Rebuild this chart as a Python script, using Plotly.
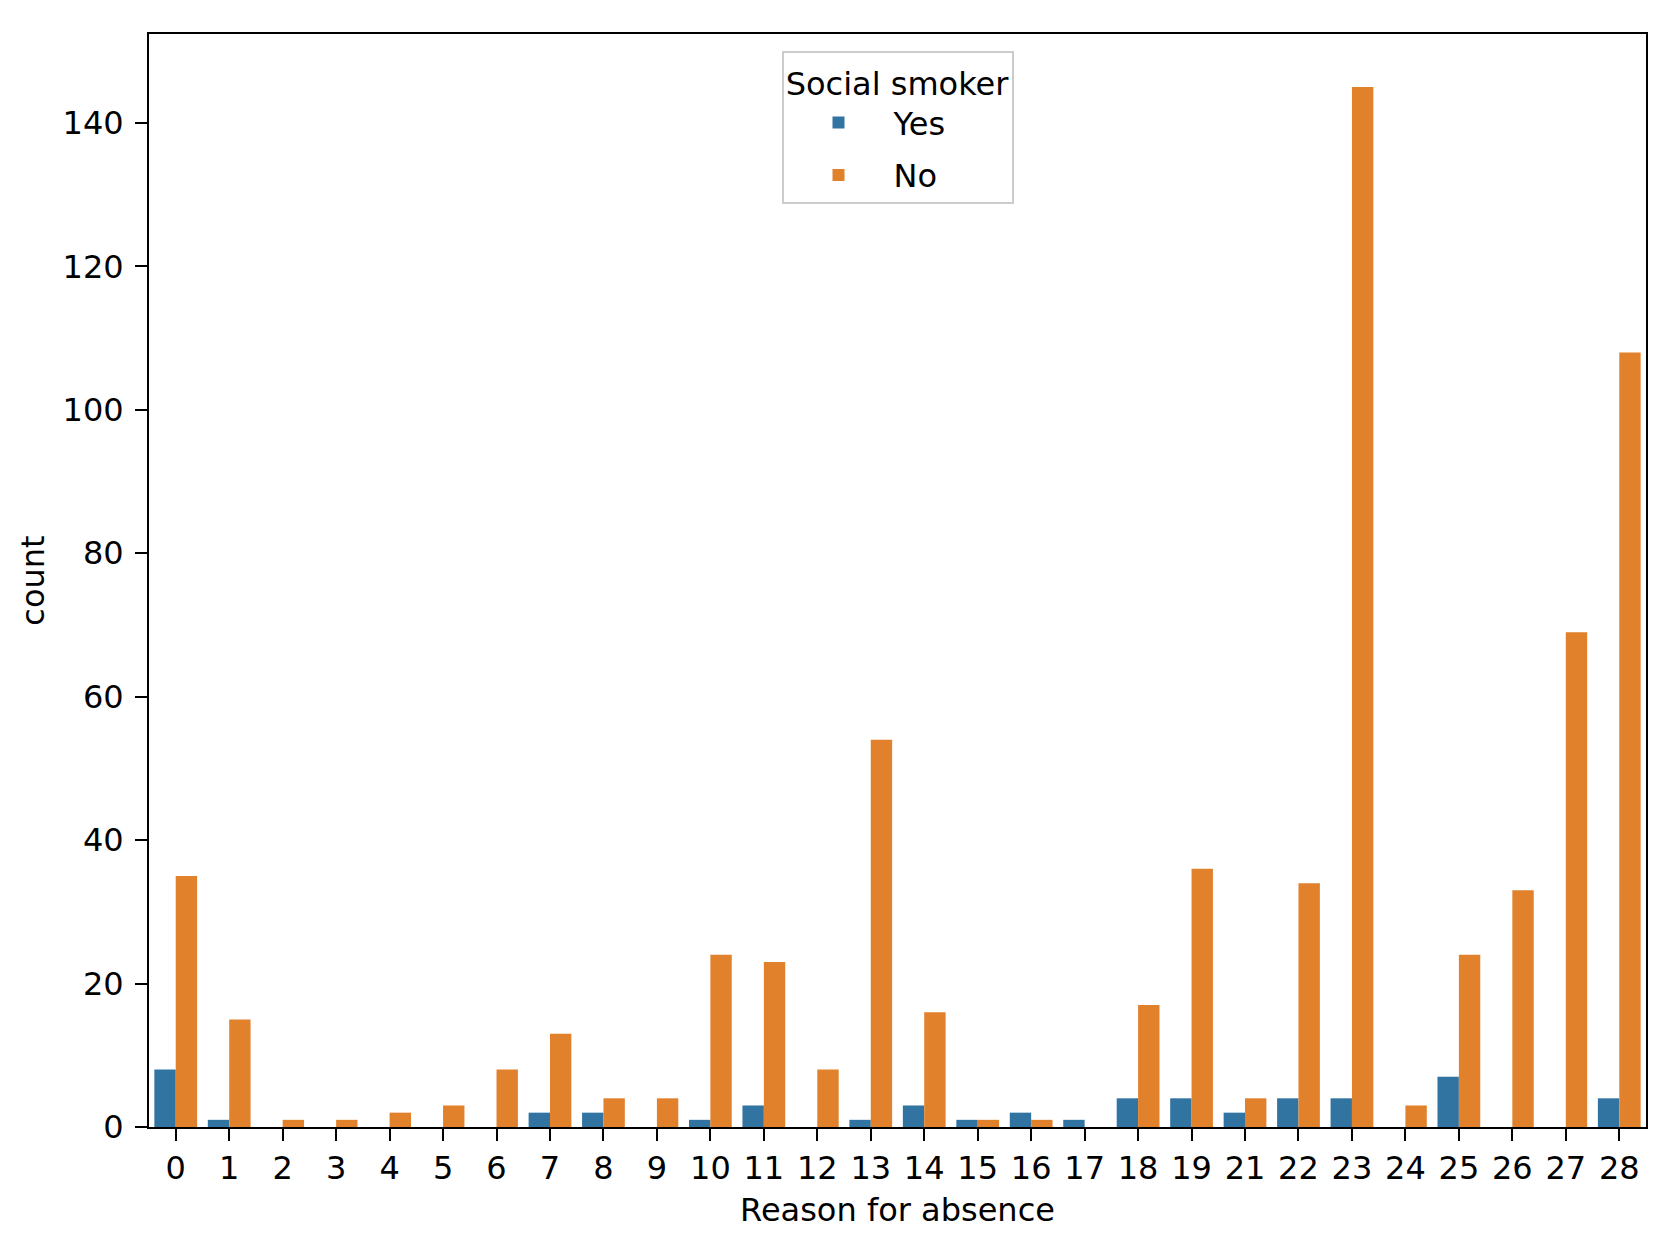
import plotly.graph_objects as go

categories = ["0", "1", "2", "3", "4", "5", "6", "7", "8", "9", "10", "11", "12", "13",
              "14", "15", "16", "17", "18", "19", "21", "22", "23", "24", "25", "26", "27", "28"]
yes_counts = [8, 1, 0, 0, 0, 0, 0, 2, 2, 0, 1, 3, 0, 1, 3, 1, 2, 1, 4, 4, 2, 4, 4, 0, 7, 0, 0, 4]
no_counts = [35, 15, 1, 1, 2, 3, 8, 13, 4, 4, 24, 23, 8, 54, 16, 1, 1, 0, 17, 36, 4, 34, 145, 3, 24, 33, 69, 108]
y_ticks = [0, 20, 40, 60, 80, 100, 120, 140]

FONT = "DejaVu Sans"
FS = 32

fig = go.Figure()
fig.add_trace(go.Bar(x=categories, y=yes_counts, name="Yes", marker_color="#3274a1",
                     marker_line_width=0, legendgroup="yes"))
fig.add_trace(go.Bar(x=categories, y=no_counts, name="No", marker_color="#e1812c",
                     marker_line_width=0, legendgroup="no"))

fig.update_layout(
    width=1665, height=1260,
    margin=dict(l=149, r=19, t=34, b=133),
    plot_bgcolor="white", paper_bgcolor="white",
    barmode="group", bargap=0.2, bargroupgap=0,
    font=dict(family=FONT, size=FS, color="black"),
    legend=dict(
        title=dict(text="Social smoker", side="top center", font=dict(size=FS)),
        x=0.5, xanchor="center", y=0.984, yanchor="top",
        bordercolor="#cccccc", borderwidth=2, bgcolor="white",
        font=dict(size=FS), itemwidth=100,
        traceorder="grouped", tracegroupgap=8,
    ),
    xaxis=dict(
        type="category", range=[-0.5, 27.5],
        showline=True, mirror=True, linecolor="black", linewidth=2,
        ticks="outside", ticklen=12, tickwidth=2, tickcolor="black",
        title=dict(text="Reason for absence", font=dict(size=FS), standoff=12),
        tickfont=dict(size=FS), showgrid=False,
    ),
    yaxis=dict(
        range=[0, 152.4], tickvals=y_ticks,
        showline=True, mirror=True, linecolor="black", linewidth=2,
        ticks="outside", ticklen=12, tickwidth=2, tickcolor="black",
        ticklabelstandoff=5,
        title=dict(text="count", font=dict(size=FS), standoff=8),
        tickfont=dict(size=FS), showgrid=False, zeroline=False,
    ),
)

fig.write_html("out.html")
